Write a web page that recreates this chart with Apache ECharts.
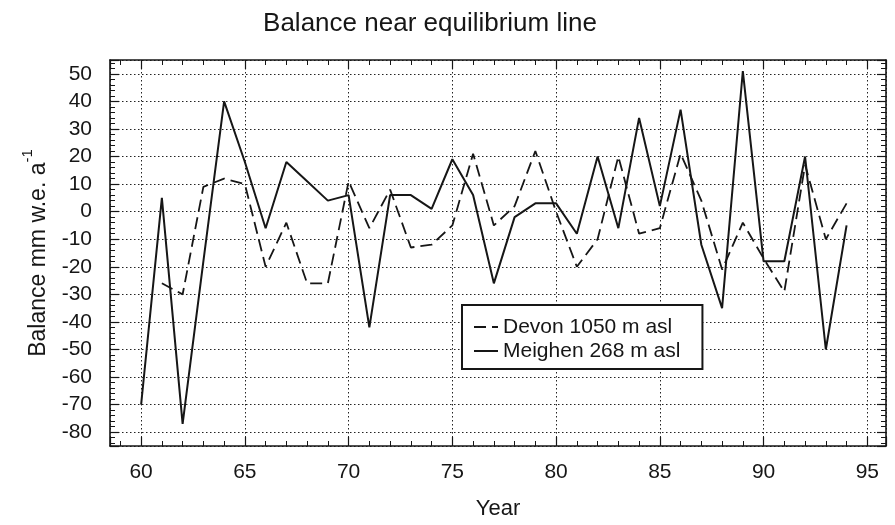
<!DOCTYPE html>
<html>
<head>
<meta charset="utf-8">
<title>Balance near equilibrium line</title>
<script src="https://cdn.jsdelivr.net/npm/echarts@6/dist/echarts.min.js"></script>
<style>
  html, body { margin: 0; padding: 0; background: #fff; }
  #chart { width: 895px; height: 525px; }
</style>
</head>
<body>
<div id="chart"></div>
<script>
// values (mm w.e. a-1)
const years = [60, 61, 62, 63, 64, 65, 66, 67, 68, 69,
  70, 71, 72, 73, 74, 75, 76, 77, 78, 79,
  80, 81, 82, 83, 84, 85, 86, 87, 88, 89,
  90, 91, 92, 93, 94]
const meighen = [-70, 5, -77, -18, 40, 18, -6, 18, 11, 4,
  6, -42, 6, 6, 1, 19, 6, -26, -2, 3,
  3, -8, 20, -6, 34, 2, 37, -12, -35, 51,
  -18, -18, 20, -50, -5]
const devon = [null, -26, -30, 9, 12, 10, -20, -4, -26, -26,
  11, -6, 8, -13, -12, -5, 21, -5, 2, 22,
  0, -20, -10, 20, -8, -6, 21, 4, -21, -4,
  -17, -29, 17, -10, 3]
const xTickLabels = [60, 65, 70, 75, 80, 85, 90, 95]
const yTickLabels = [50, 40, 30, 20, 10, 0, -10, -20, -30, -40, -50, -60, -70, -80]

const FONT = '"Liberation Sans", Arial, Helvetica, sans-serif'
const INK = '#161616'

function pairs(vals) {
  return years.map((y, i) => [y, vals[i]]).filter((p) => p[1] !== null)
}

function frameAxis(min, max, step, position) {
  return {
    type: 'value',
    position: position,
    min: min,
    max: max,
    minInterval: step,
    maxInterval: step,
    axisLine: { show: true, onZero: false, lineStyle: { color: INK, width: 1.6 } },
    axisTick: { show: true, inside: true, length: 9, lineStyle: { color: INK, width: 1.2 } },
    minorTick: { show: true, splitNumber: 5, length: 5, lineStyle: { color: INK, width: 1 } },
    axisLabel: { show: false },
    splitLine: { show: false }
  }
}

const chart = echarts.init(document.getElementById('chart'))

const gridDots = { color: '#222', width: 1, type: [1.5, 2.5] }

const xMain = frameAxis(58.5, 95.9, 5, 'bottom')
xMain.axisLabel = {
  show: true,
  margin: 16,
  fontFamily: FONT,
  fontSize: 21,
  color: INK,
  formatter: (v) => (xTickLabels.includes(Math.round(v * 100) / 100) ? String(v) : '')
}
xMain.splitLine = { show: true, lineStyle: gridDots }
xMain.name = 'Year'
xMain.nameLocation = 'middle'
xMain.nameGap = 52
xMain.nameTextStyle = { fontFamily: FONT, fontSize: 22, color: INK }

const yMain = frameAxis(-85, 55, 10, 'left')
yMain.axisLabel = {
  show: true,
  margin: 18,
  fontFamily: FONT,
  fontSize: 21,
  color: INK,
  formatter: (v) => (yTickLabels.includes(Math.round(v * 100) / 100) ? String(v) : '')
}
yMain.splitLine = { show: true, lineStyle: gridDots }
yMain.name = '{t|Balance mm w.e. a}{s|-1}'
yMain.nameLocation = 'middle'
yMain.nameGap = 60
yMain.nameTextStyle = {
  color: INK,
  rich: {
    t: { fontFamily: FONT, fontSize: 23, color: INK, lineHeight: 30, verticalAlign: 'bottom' },
    s: { fontFamily: FONT, fontSize: 15, color: INK, lineHeight: 30, verticalAlign: 'top' }
  }
}

chart.setOption({
  backgroundColor: '#fff',
  animation: false,
  title: {
    text: 'Balance near equilibrium line',
    left: 425,
    top: 6,
    textAlign: 'center',
    textStyle: { fontFamily: FONT, fontSize: 26, fontWeight: 'normal', color: INK }
  },
  grid: { left: 110, right: 9, top: 60, bottom: 79 },
  legend: {
    data: ['Devon 1050 m asl', 'Meighen 268 m asl'],
    orient: 'vertical',
    left: 462,
    top: 305,
    itemWidth: 24,
    itemHeight: 14,
    itemGap: 2,
    padding: [11, 22, 7, 11],
    borderColor: INK,
    borderWidth: 2,
    borderRadius: 0,
    backgroundColor: '#fff',
    itemStyle: { opacity: 0 },
    textStyle: { fontFamily: FONT, fontSize: 21, color: INK, lineHeight: 22 }
  },
  xAxis: [xMain, frameAxis(58.5, 95.9, 5, 'top')],
  yAxis: [yMain, frameAxis(-85, 55, 10, 'right')],
  series: [
    {
      name: 'Devon 1050 m asl',
      type: 'line',
      data: pairs(devon),
      symbol: 'none',
      lineStyle: { color: INK, width: 1.8, type: [12, 6] },
      itemStyle: { color: INK },
      z: 3
    },
    {
      name: 'Meighen 268 m asl',
      type: 'line',
      data: pairs(meighen),
      symbol: 'none',
      lineStyle: { color: INK, width: 2 },
      itemStyle: { color: INK },
      z: 3
    }
  ]
})
</script>
</body>
</html>
